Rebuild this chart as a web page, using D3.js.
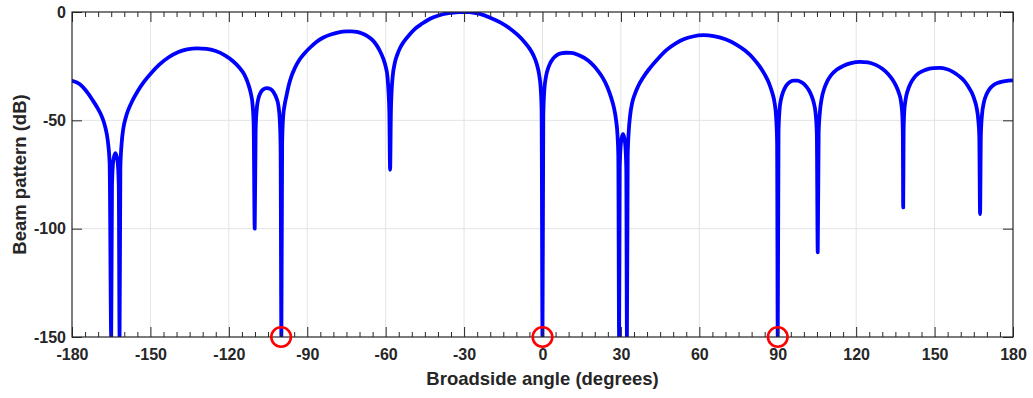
<!DOCTYPE html>
<html>
<head>
<meta charset="utf-8">
<script src="https://cdn.jsdelivr.net/npm/d3@7"></script>
<style>
  body { margin: 0; background: #fff; }
  svg { display: block; font-family: "Liberation Sans", Arial, Helvetica, sans-serif; }
  .tick text { font-size: 16px; font-weight: bold; fill: #262626; }
  .tick line { stroke: #262626; }
  .domain { display: none; }
</style>
</head>
<body>
<div id="chart"></div>
<script>
// 빔 패턴 샘플 (각도 deg, 크기 dB) - 그림에서 읽은 값
const angleDeg = [
  -180, -178, -176, -174, -172, -170, -168.5, -167.3, -166.3, -165.6, -165.0,
  -164.7, -164.2, -163.4, -162.6, -162.1, -161.8,
  -161.5, -161.0, -160.4, -159.5, -158.5, -157, -155, -152.5, -149.5, -146.5, -143, -139.5, -136, -132,
  -128.5, -125, -121.5, -118.5, -116, -114, -112.5, -111.6, -110.9, -110.5, -110.1,
  -109.75, -109.4, -108.8, -108.0, -107, -105.5, -104, -102.8, -101.8, -101, -100.5, -100.2, -99.9,
  -99.6, -99.2, -98.6, -98.0, -97, -96, -94.8, -93, -91, -89, -86.5, -84, -81, -78, -75, -73, -71, -69,
  -67, -65, -63.5, -62.2, -61, -60, -59.3, -58.9, -58.6, -58.3,
  -58.0, -57.7, -57.3, -56.5, -55.5, -54.5, -53, -51, -49, -46, -43, -40, -36, -32, -30, -28, -24, -20,
  -16, -12.5, -9.5, -7, -5, -3.5, -2.2, -1.3, -0.7, -0.35, 0,
  0.3, 0.7, 1.3, 2.0, 3.0, 4.2, 5.5, 7, 9, 11, 13.5, 16, 18.5, 21, 23, 24.8, 26.2, 27.3, 28.1, 28.7, 29.0, 29.3,
  29.55, 30.0, 30.8, 31.6, 32.05, 32.3,
  32.6, 33.0, 33.5, 34.3, 35.3, 36.5, 38.5, 41, 44, 47.5, 51, 54, 57.5, 61.5, 65.5, 70, 74, 77.5, 80.5, 83,
  85, 86.7, 87.9, 88.8, 89.4, 89.75, 90,
  90.3, 90.7, 91.3, 92.1, 93.2, 94.5, 96, 97.5, 99, 100.5, 101.8, 102.9, 103.8, 104.5, 104.95, 105.3,
  105.65, 106.1, 106.8, 107.8, 109, 110.5, 112.5, 115, 118, 121.5, 124.5, 127.5, 130, 132.2, 134, 135.3,
  136.3, 137.1, 137.6, 137.85, 138.0,
  138.15, 138.4, 138.9, 139.7, 140.8, 142.2, 144, 146.5, 149.5, 152, 154.5, 157, 159.5, 161.5, 163, 164.3,
  165.3, 166.1, 166.7, 167.1, 167.4,
  167.7, 168.1, 168.9, 169.8, 171, 172.5, 174.5, 177, 180
];
const patternDb = [
  -31.8, -32.6, -34.4, -37.3, -40.9, -44.8, -48.5, -53, -59.5, -70, -150,
  -80, -68.5, -65.1, -68.5, -80, -150,
  -72, -60.5, -54, -49, -45.3, -41.2, -36.8, -32.3, -27.9, -24.2, -20.9, -18.6, -17.3, -16.8,
  -17.0, -18.0, -20.0, -22.6, -25.6, -29, -33.5, -37.5, -43, -52, -100,
  -55, -46, -40.5, -37.6, -35.9, -35.1, -35.6, -37.2, -39.7, -43.5, -50, -62, -150,
  -60, -48, -42.5, -39.0, -33.5, -29.5, -26, -22, -19, -16.5, -13.8, -11.9, -10.4, -9.4, -8.95, -8.9, -9.2, -9.9,
  -11.1, -13.0, -15.3, -18.0, -21.3, -25.2, -30, -37, -46, -72.8,
  -46, -36, -29.5, -23.5, -19.5, -16.6, -13.6, -10.6, -8.0, -5.3, -3.1, -1.7, -0.55, -0.05, 0, -0.1, -0.9, -2.6,
  -4.9, -7.6, -10.6, -13.7, -16.8, -19.9, -24.0, -28.8, -35, -45, -150,
  -48, -36, -30, -26.5, -23.5, -21.3, -19.9, -19.1, -18.8, -18.9, -19.7, -21.2, -23.5, -26.8, -30.3, -34.6, -39.3, -44, -49.5, -57, -66, -150,
  -72, -60.5, -56.3, -60.5, -72, -150,
  -66, -55, -48, -42, -38, -34.5, -30.2, -26, -21.8, -17.5, -14.5, -12.6, -11.3, -10.7, -11.1, -12.6, -14.9, -17.8, -21.2, -25.0,
  -28.8, -33.0, -37.3, -42, -49, -60, -150,
  -55, -45, -40, -36.8, -34.0, -32.4, -31.7, -31.7, -32.4, -33.8, -35.9, -38.6, -42, -47, -56, -110.9,
  -56, -46.5, -40, -35.3, -31.8, -29.0, -26.7, -24.9, -23.6, -23.0, -23.2, -24.4, -26.2, -28.6, -31.4, -34.2,
  -37.2, -41, -46.5, -55, -90.2,
  -55, -46, -40.5, -36.3, -33.0, -30.3, -28.2, -26.7, -25.9, -25.8, -26.3, -27.6, -29.7, -32.0, -34.6, -37.4,
  -40.6, -44.3, -49.5, -57, -93.3,
  -57, -48, -41.5, -38.2, -35.6, -33.8, -32.6, -31.9, -31.6
];
// 빨간 원으로 표시한 널 방향
const markedNullsDeg = [-100, 0, 90];

const xMajorTicks = d3.range(-180, 181, 30);
const xMinorTicks = d3.range(-180, 181, 5).filter(v => v % 30 !== 0);
const yTicks = [0, -50, -100, -150];

const width = 1033;
const height = 398;
const margin = { top: 12, right: 20, bottom: 61, left: 72 };
const axisColor = '#262626';

const data = angleDeg.map((a, i) => ({ x: a, y: patternDb[i] }));

const xScale = d3.scaleLinear()
    .domain([-180, 180])
    .range([margin.left, width - margin.right]);

const yScale = d3.scaleLinear()
    .domain([-150, 0])
    .range([height - margin.bottom, margin.top]);

const svg = d3.select('#chart')
    .append('svg')
    .attr('width', width)
    .attr('height', height);

const plotW = xScale(180) - xScale(-180);
const plotH = yScale(-150) - yScale(0);

svg.append('defs').append('clipPath')
    .attr('id', 'plotClip')
    .append('rect')
    .attr('x', xScale(-180))
    .attr('y', yScale(0))
    .attr('width', plotW)
    .attr('height', plotH);

// 격자
const grid = svg.append('g').attr('stroke', '#e3e3e3').attr('stroke-width', 1);
xMajorTicks.slice(1, -1).forEach(v => {
    grid.append('line')
        .attr('x1', xScale(v)).attr('x2', xScale(v))
        .attr('y1', yScale(0)).attr('y2', yScale(-150));
});
yTicks.slice(1, -1).forEach(v => {
    grid.append('line')
        .attr('x1', xScale(-180)).attr('x2', xScale(180))
        .attr('y1', yScale(v)).attr('y2', yScale(v));
});

// 빔 패턴 곡선
const line = d3.line()
    .x(d => xScale(d.x))
    .y(d => yScale(d.y))
    .curve(d3.curveMonotoneX);

svg.append('path')
    .datum(data)
    .attr('clip-path', 'url(#plotClip)')
    .attr('fill', 'none')
    .attr('stroke', '#0000ff')
    .attr('stroke-width', 3.8)
    .attr('stroke-linejoin', 'round')
    .attr('stroke-linecap', 'round')
    .attr('d', line);

// 축 (눈금은 안쪽)
const yBottom = yScale(-150);
const yTop = yScale(0);

svg.append('g')
    .attr('transform', `translate(0,${yBottom})`)
    .call(d3.axisBottom(xScale).tickValues(xMajorTicks).tickSize(-10).tickPadding(12).tickFormat(d3.format('d')));
svg.append('g')
    .attr('transform', `translate(0,${yBottom})`)
    .call(d3.axisBottom(xScale).tickValues(xMinorTicks).tickSize(-5).tickFormat(''));
svg.append('g')
    .attr('transform', `translate(0,${yTop})`)
    .call(d3.axisTop(xScale).tickValues(xMajorTicks).tickSize(-10).tickFormat(''));
svg.append('g')
    .attr('transform', `translate(0,${yTop})`)
    .call(d3.axisTop(xScale).tickValues(xMinorTicks).tickSize(-5).tickFormat(''));

svg.append('g')
    .attr('transform', `translate(${xScale(-180)},0)`)
    .call(d3.axisLeft(yScale).tickValues(yTicks).tickSize(-10).tickPadding(6).tickFormat(d3.format('d')));
svg.append('g')
    .attr('transform', `translate(${xScale(180)},0)`)
    .call(d3.axisRight(yScale).tickValues(yTicks).tickSize(-10).tickFormat(''));

svg.selectAll('.tick text').text(function () { return this.textContent.replace('−', '-'); });

// 축 테두리
svg.append('rect')
    .attr('x', xScale(-180))
    .attr('y', yTop)
    .attr('width', plotW)
    .attr('height', plotH)
    .attr('fill', 'none')
    .attr('stroke', axisColor)
    .attr('stroke-width', 1.2);

// 널 표시 원
svg.selectAll('circle.null')
    .data(markedNullsDeg)
    .enter()
    .append('circle')
    .attr('class', 'null')
    .attr('cx', d => xScale(d))
    .attr('cy', yScale(-150))
    .attr('r', 9.8)
    .attr('fill', 'none')
    .attr('stroke', '#ff0000')
    .attr('stroke-width', 2.6);

// 축 레이블
svg.append('text')
    .attr('x', (xScale(-180) + xScale(180)) / 2)
    .attr('y', 385)
    .attr('text-anchor', 'middle')
    .style('font-size', '18.5px')
    .style('font-weight', 'bold')
    .style('fill', axisColor)
    .text('Broadside angle (degrees)');

svg.append('text')
    .attr('transform', `translate(26,${(yTop + yBottom) / 2}) rotate(-90)`)
    .attr('text-anchor', 'middle')
    .style('font-size', '18.5px')
    .style('font-weight', 'bold')
    .style('fill', axisColor)
    .text('Beam pattern (dB)');
</script>
</body>
</html>
